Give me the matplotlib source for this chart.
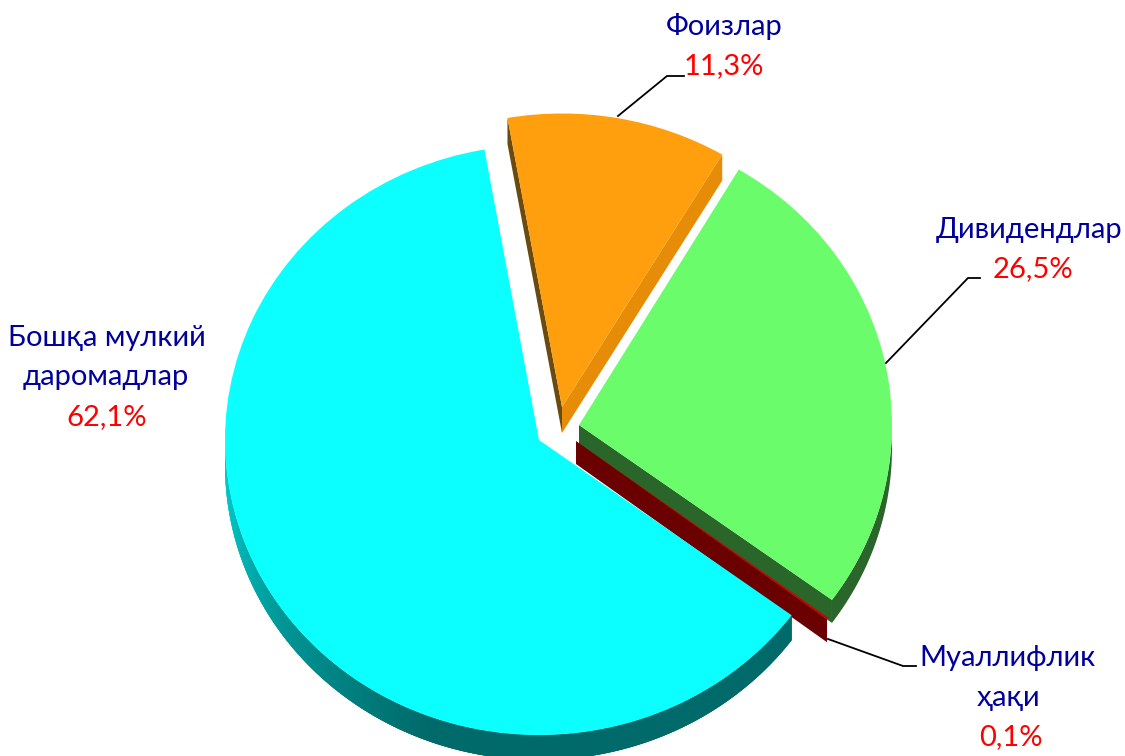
import numpy as np
import matplotlib
matplotlib.use("Agg")
import matplotlib.pyplot as plt
from matplotlib.patches import Polygon
from matplotlib.transforms import Affine2D

plt.rcParams['font.family'] = ['Lato', 'Noto Sans', 'DejaVu Sans']

# data
categories = ["Бошқа мулкий\nдаромадлар", "Муаллифлик\nҳақи", "Дивидендлар", "Фоизлар"]
values = [62.1, 0.1, 26.5, 11.3]
pct_labels = ["62,1%", "0,1%", "26,5%", "11,3%"]

# style and layout (pixels)
top_colors = ["#0bffff", "#d00000", "#6bfc6b", "#ff9f0d"]
centers = [(539, 440), (576, 441), (579, 425), (562, 407)]
radii = [(314, 295), (312, 300), (313, 297), (314, 293.5)]
depths = [25, 23, 23, 26]
side1_colors = [None, "#6b0000", "#2a662a", "#e68c06"]
side2_colors = [None, None, None, "#6b4a10"]
rim_colors = [None, "#6b0000", "#2a662a", "#e68c06"]
draw_order = [3, 2, 1, 0]

NAVY = "#00009c"
RED = "#ff0000"
FS = 21

leaders = [
    [(618, 116), (667, 76), (684, 76)],
    [(886, 363), (968, 278), (980, 278)],
    [(828, 639), (903, 666), (916, 666)],
]
name_pos = [
    [(107, 338), (106, 377)],
    [(1008, 658), (1008, 698)],
    [(1029, 230)],
    [(724, 27)],
]
pct_pos = [(107, 417), (1011, 737), (1033, 269), (724, 66)]

fig = plt.figure(figsize=(11.25, 7.56), dpi=100, facecolor="white")
ax = fig.add_axes([0, 0, 1, 1])
wedges, _ = ax.pie(values, startangle=100.0, counterclock=True, colors=top_colors,
                   wedgeprops=dict(linewidth=0), frame=True)
ax.set_aspect('auto')
ax.set_xlim(0, 1125)
ax.set_ylim(756, 0)
ax.axis('off')


def pt(i, deg):
    cx, cy = centers[i]
    rx, ry = radii[i]
    a = np.deg2rad(deg)
    return (cx + rx * np.cos(a), cy - ry * np.sin(a))


def band(points, drop, color, z):
    top = list(points)
    bottom = [(x, y + drop) for x, y in reversed(points)]
    ax.add_patch(Polygon(top + bottom, closed=True, facecolor=color,
                         edgecolor="none", linewidth=0, zorder=z))


def cyan_shade(deg):
    g = np.interp(deg, [180, 190, 215, 250, 360], [205, 195, 150, 105, 105])
    return (0, g / 255, g / 255)


z = 1
for i in draw_order:
    w = wedges[i]
    d = depths[i]
    apex = centers[i]
    # radial faces
    if side2_colors[i]:
        band([apex, pt(i, w.theta2)], d, side2_colors[i], z)
    if side1_colors[i]:
        band([apex, pt(i, w.theta1)], d, side1_colors[i], z)
    # outer rim, only the part facing the viewer; bands overlap so no seams show
    angs = np.arange(w.theta1, w.theta2, 0.5)
    angs = angs[np.sin(np.deg2rad(angs)) <= 0.02]
    if rim_colors[i]:
        if len(angs) > 1:
            band([pt(i, a) for a in angs], d, rim_colors[i], z)
    else:
        for a0 in angs:
            seg = np.linspace(a0, w.theta2, 2) if a0 + 1.5 > w.theta2 else np.linspace(a0, a0 + 1.5, 4)
            band([pt(i, a) for a in seg], d, cyan_shade(a0 % 360), z)
            z += 0.001
    z = int(z) + 1
    rx, ry = radii[i]
    w.set_transform(Affine2D().scale(rx, -ry).translate(*apex) + ax.transData)
    w.set_clip_on(False)
    w.set_zorder(z)
    z += 1

for line in leaders:
    xs, ys = zip(*line)
    ax.plot(xs, ys, color="black", lw=1.3, zorder=50, solid_joinstyle='miter')

for i, cat in enumerate(categories):
    for text, (x, y) in zip(cat.split("\n"), name_pos[i]):
        ax.text(x, y, text, color=NAVY, fontsize=FS, ha="center", va="center", zorder=60)
    x, y = pct_pos[i]
    ax.text(x, y, pct_labels[i], color=RED, fontsize=FS, ha="center", va="center", zorder=60)

fig.savefig("out.png", dpi=100)
